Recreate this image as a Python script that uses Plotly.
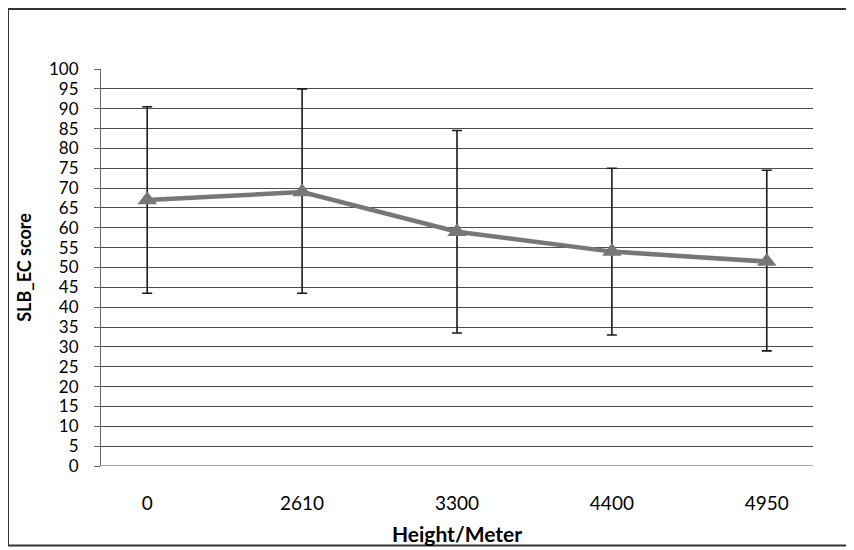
import plotly.graph_objects as go

heights = ["0", "2610", "3300", "4400", "4950"]
scores = [67, 69, 59, 54, 51.5]
upper = [90.5, 95, 84.5, 75, 74.5]
lower = [43.5, 43.5, 33.5, 33, 29]

err_plus = [u - s for u, s in zip(upper, scores)]
err_minus = [s - l for s, l in zip(scores, lower)]

W, H = 854, 550
OFF = 8  # page body offset
L, T = 101 - OFF, 69 - OFF
R = W - (813 - OFF)
B = H - (466.5 - OFF)
pw, ph = W - L - R, H - T - B

fig = go.Figure()
fig.add_trace(go.Scatter(
    x=heights, y=scores, mode="lines+markers",
    line=dict(color="#777777", width=4.5),
    marker=dict(symbol="triangle-up", size=17, color="#777777"),
    error_y=dict(type="data", symmetric=False, array=err_plus, arrayminus=err_minus,
                 color="#1a1a1a", thickness=1.6, width=5),
    showlegend=False,
))

fig.update_layout(
    width=W, height=H,
    margin=dict(l=L, r=R, t=T, b=B),
    paper_bgcolor="white", plot_bgcolor="white",
    font=dict(family="Lato, 'Open Sans', sans-serif", color="#000"),
    xaxis=dict(
        type="category", showgrid=False, zeroline=False, showline=False,
        ticks="", tickfont=dict(size=19), ticklabelstandoff=24,
        title=dict(text="<b>Height/Meter</b>", font=dict(size=21), standoff=14),
    ),
    yaxis=dict(
        range=[0, 100], dtick=5, tick0=0, showgrid=True, gridcolor="#4d4d4d", gridwidth=1,
        zeroline=False, showline=True, linecolor="#666", linewidth=1,
        ticks="outside", ticklen=6, tickcolor="#666", tickfont=dict(size=17),
        ticklabelstandoff=12,
        title=dict(text="<b>SLB_EC score</b>", font=dict(size=18), standoff=12),
    ),
)

fig.add_shape(type="line", xref="paper", yref="y", x0=0, x1=1, y0=0, y1=0,
              line=dict(color="#4d4d4d", width=1))
fig.add_shape(type="rect", xref="paper", yref="paper",
              x0=(8 - 101) / pw, x1=(870 - 101) / pw,
              y0=(466.5 - 546) / ph, y1=(466.5 - 9) / ph,
              line=dict(color="#333", width=2), fillcolor="rgba(0,0,0,0)")

fig.write_html("out.html", config={"displayModeBar": False})
